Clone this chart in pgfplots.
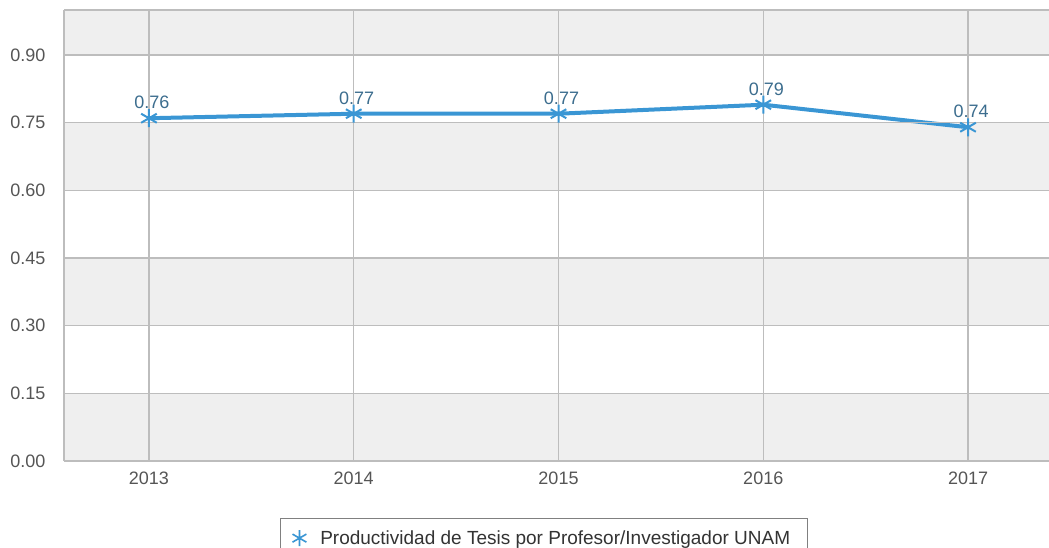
\documentclass[border=0pt]{standalone}
\usepackage{fontspec}
\setmainfont{Liberation Sans}
\usepackage{pgfplots}
\pgfplotsset{compat=1.18}

\definecolor{bandgray}{HTML}{EFEFEF}
\definecolor{gridgray}{HTML}{BDBDBD}
\definecolor{textgray}{HTML}{555555}
\definecolor{lineblue}{HTML}{3A96D4}
\definecolor{labelblue}{HTML}{3C6D8E}

\pgfplotsset{
    wide mark legend/.style={
        legend image code/.code={\path[draw=none,fill=none] (-0.05cm,0cm) rectangle (0.75cm,0.01cm);
            \draw[##1] plot coordinates {(0.3cm,0cm)};}
    }
}

\begin{document}
\begin{tikzpicture}
\clip (0pt,0pt) rectangle (1049pt,548pt);
\begin{axis}[
    at={(64pt,87pt)}, anchor=south west,
    scale only axis,
    width=989pt, height=451pt,
    xmin=2012.585, xmax=2017.415,
    ymin=0, ymax=1.0,
    xtick={2013,2014,2015,2016,2017},
    ytick={0,0.15,0.30,0.45,0.60,0.75,0.90},
    xticklabel style={/pgf/number format/1000 sep={}, yshift=-7pt},
    yticklabel style={/pgf/number format/.cd, fixed, fixed zerofill, precision=2, /tikz/.cd, xshift=-15pt},
    /pgf/number format/assume math mode=true,
    tick label style={font=\fontsize{18}{21}\selectfont, text=textgray},
    major tick length=0pt,
    grid=major,
    major grid style={gridgray, line width=1.2pt},
    axis line style={gridgray, line width=1.2pt},
    axis x line*=bottom, axis y line*=left,
    axis on top,
    legend style={at={(axis description cs:0.2184,-0.1264)}, anchor=north west,
        draw=gray, line width=1pt, font=\fontsize{19}{22}\selectfont, text=black!80,
        inner xsep=9pt, inner ysep=10pt, legend cell align=left,
        nodes={inner xsep=8pt}},
]
% alternating bands
\fill[bandgray] (axis cs:2012.585,0) rectangle (axis cs:2017.415,0.15);
\fill[bandgray] (axis cs:2012.585,0.30) rectangle (axis cs:2017.415,0.45);
\fill[bandgray] (axis cs:2012.585,0.60) rectangle (axis cs:2017.415,0.75);
\fill[bandgray] (axis cs:2012.585,0.90) rectangle (axis cs:2017.415,1.0);
\draw[gridgray, line width=1.2pt] (axis cs:2012.585,1.0) -- (axis cs:2017.415,1.0);

\addlegendimage{only marks, mark=asterisk, lineblue, mark size=8pt, line width=1.6pt, wide mark legend}
\addlegendentry{Productividad de Tesis por Profesor/Investigador UNAM}

\addplot[lineblue, line width=4pt, mark=asterisk, mark size=9pt,
    mark options={line width=2pt},
    nodes near coords,
    every node near coord/.append style={font=\fontsize{18}{21}\selectfont, text=labelblue, yshift=5pt, xshift=3pt, /pgf/number format/fixed, /pgf/number format/precision=2, /pgf/number format/fixed zerofill},
    forget plot]
coordinates {
    (2013,0.76)
    (2014,0.77)
    (2015,0.77)
    (2016,0.79)
    (2017,0.74)
};
\end{axis}
\end{tikzpicture}
\end{document}
